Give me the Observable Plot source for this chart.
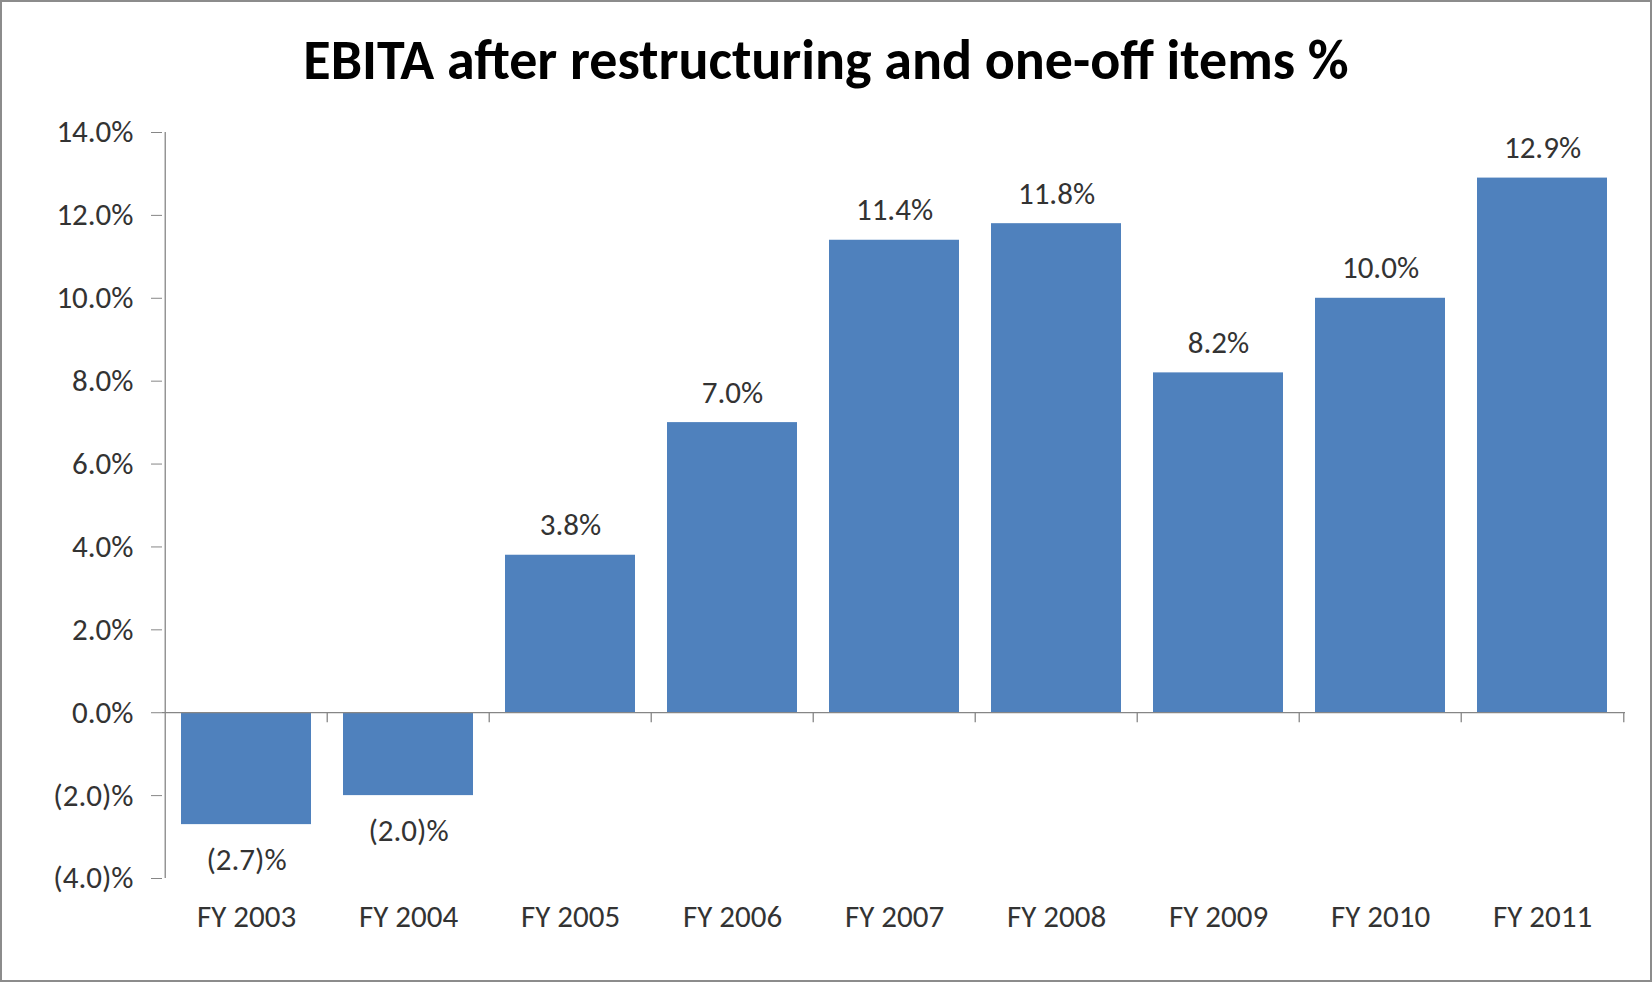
<!DOCTYPE html>
<html><head><meta charset="utf-8">
<script src="https://cdn.jsdelivr.net/npm/d3@7"></script>
<script src="https://cdn.jsdelivr.net/npm/@observablehq/plot@0.6"></script>
<style>
html,body{margin:0;padding:0;background:#fff;}
#wrap{width:1652px;height:982px;box-sizing:border-box;border:2px solid #8c8c8c;background:#fff;overflow:hidden;}
#title{height:98px;box-sizing:border-box;padding-top:30px;text-align:center;font-family:Carlito,Calibri,"Open Sans",sans-serif;font-weight:bold;font-size:56px;line-height:1;color:#000;white-space:nowrap;}
#chart svg{display:block;}
</style></head><body>
<div id="wrap"><div id="title">EBITA after restructuring and one-off items %</div><div id="chart"></div></div>
<script>
const categories = ["FY 2003","FY 2004","FY 2005","FY 2006","FY 2007","FY 2008","FY 2009","FY 2010","FY 2011"];
const values = [-2.7, -2.0, 3.8, 7.0, 11.4, 11.8, 8.2, 10.0, 12.9];
const yTicks = [-4, -2, 0, 2, 4, 6, 8, 10, 12, 14];

const data = categories.map((c, i) => ({cat: c, v: values[i]}));
const fmt = d => d < 0 ? `(${(-d).toFixed(1)})%` : `${d.toFixed(1)}%`;

const width = 1648, height = 880;
const marginLeft = 160, marginRight = 25, marginTop = 32, marginBottom = 102;
const step = (width - marginLeft - marginRight) / categories.length;
const font = 'Carlito, Calibri, "Open Sans", sans-serif';
const axisColor = "#868686";
const textColor = "#333333";
const fs = 31;

const chart = Plot.plot({
  width, height, marginLeft, marginRight, marginTop, marginBottom,
  style: {fontFamily: font, fontSize: fs + "px", color: textColor, background: "#fff"},
  x: {domain: categories, paddingInner: 0.2, paddingOuter: 0.1, label: null},
  y: {domain: [-4, 14], label: null},
  marks: [
    Plot.barY(data, {x: "cat", y: "v", fill: "#4F81BD"}),
    Plot.ruleY([0], {stroke: axisColor, strokeWidth: 1.3}),
    Plot.ruleX([categories[0]], {x: d => d, y1: -4, y2: 14, dx: -step / 2, stroke: axisColor, strokeWidth: 1.3}),
    Plot.ruleX(categories.slice(1), {x: d => d, y1: 0, y2: 0, insetBottom: -10, dx: -step / 2, stroke: axisColor, strokeWidth: 1.3}),
    Plot.ruleX([categories[categories.length - 1]], {x: d => d, y1: 0, y2: 0, insetBottom: -10, dx: step / 2, stroke: axisColor, strokeWidth: 1.3}),
    Plot.axisY({ticks: yTicks, tickFormat: fmt, tickSize: 11, tickPadding: 18, stroke: axisColor, fill: textColor, fontSize: fs, label: null}),
    Plot.axisX({tickSize: 0, tickPadding: 26, fill: textColor, fontSize: fs, label: null}),
    Plot.text(data.filter(d => d.v >= 0), {x: "cat", y: "v", text: d => fmt(d.v), dy: -30, fill: textColor, fontSize: fs}),
    Plot.text(data.filter(d => d.v < 0), {x: "cat", y: "v", text: d => fmt(d.v), dy: 35, fill: textColor, fontSize: fs})
  ]
});
document.getElementById("chart").appendChild(chart);
</script>
</body></html>
